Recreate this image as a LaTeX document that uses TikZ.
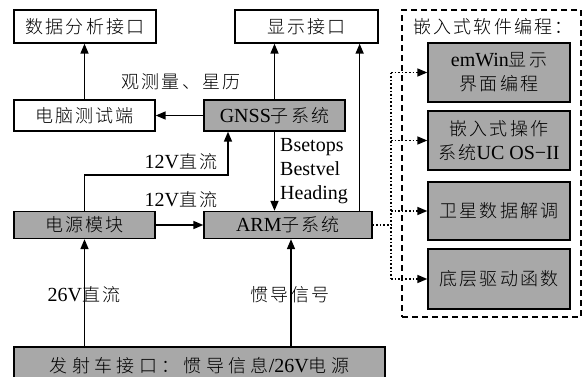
\documentclass[tikz,border=0pt]{standalone}
\usepackage{fontspec}
\setmainfont{Liberation Serif}
\newfontfamily\cjk[Scale=0.9,LetterSpace=12,UprightFont={* Light}]{Noto Sans CJK SC}
\newfontfamily\cjkwide[Scale=0.9,LetterSpace=24,UprightFont={* Light}]{Noto Sans CJK SC}
\usetikzlibrary{arrows.meta,calc}
\definecolor{boxgray}{RGB}{168,168,168}
\begin{document}
\begin{tikzpicture}[x=1pt,y=-1pt,
  every node/.style={font=\fontsize{20}{24}\selectfont},
  wbox/.style={draw, line width=1.3pt, fill=white, inner sep=0pt, align=center},
  gbox/.style={wbox, fill=boxgray},
  conn/.style={line width=1.6pt, -{Triangle[length=10pt,width=8pt]}},
  dotconn/.style={line width=1.6pt, dotted},
  lbl/.style={inner sep=0pt}]
\useasboundingbox (0,0) rectangle (582,376);
\fill[white] (0,0) rectangle (582,376);
\clip (0,0) rectangle (582,376);
% boxes
\node[wbox, minimum width=142pt, minimum height=33pt] (da) at (85,26.5) {\cjk 数据分析接口};
\node[wbox, minimum width=143pt, minimum height=33pt] (xs) at (306.5,26.5) {\cjk 显示接口};
\node[wbox, minimum width=141pt, minimum height=31pt] (pc) at (84.5,115.5) {\cjk 电脑测试端};
\node[gbox, minimum width=141pt, minimum height=31pt] (gnss) at (274.5,115.5) {GNSS{\cjk 子系统}};
\node[gbox, minimum width=141pt, minimum height=27pt] (pw) at (84.5,225) {\cjk 电源模块};
\node[gbox, minimum width=168pt, minimum height=27pt] (arm) at (288,225) {ARM{\cjk 子系统}};
\node[gbox, minimum width=371pt, minimum height=38pt] (bot) at (199.5,366) {{\cjkwide 发射车接口：惯导信息}/26V{\cjkwide 电源}};
% software group
\node[draw, line width=1.8pt, dash pattern=on 6pt off 4pt, minimum width=179pt, minimum height=307pt, inner sep=0pt] (sw) at (491.5,163.5) {};
\node[lbl] (swt) at (493,27) {\cjk 嵌入式软件编程：};
\node[gbox, minimum width=142pt, minimum height=59pt] (s1) at (499,72.5) {emWin{\cjk 显示}\\{\cjk 界面编程}};
\node[gbox, minimum width=142pt, minimum height=59pt] (s2) at (499,140.5) {{\cjk 嵌入式操作}\\{\cjk 系统}UC OS−II};
\node[gbox, minimum width=142pt, minimum height=58pt] (s3) at (499,211) {\cjk 卫星数据解调};
\node[gbox, minimum width=142pt, minimum height=60pt] (s4) at (499,279) {\cjk 底层驱动函数};
% connectors
\draw[conn] (pc.north) -- (pc.north |- da.south);
\draw[conn] (gnss.west) -- (pc.east);
\draw[conn] (gnss.north) -- (gnss.north |- xs.south);
\coordinate (armr) at ([xshift=-13pt]arm.north east);
\draw[conn] (armr) -- (armr |- xs.south);
\draw[conn] (gnss.south) -- (gnss.south |- arm.north);
\coordinate (gin) at (228,0);
\coordinate (pbend) at (0,175);
\draw[conn] (pw.north) |- (pbend -| gin) -- (gin |- gnss.south);
\draw[conn] (pw.east) -- (arm.west);
\draw[conn] (bot.north -| pw.south) -- (pw.south);
\coordinate (ins) at (291,0);
\draw[conn] (bot.north -| ins) -- (ins |- arm.south);
% dotted bus
\coordinate (bus) at (391,0);
\draw[dotconn] (arm.east) -- (arm.east -| bus);
\draw[dotconn] (bus |- s1.west) -- (bus |- s4.west);
\foreach \s in {s1,s2,s3,s4}
  \draw[dotconn, -{Triangle[length=10pt,width=8pt]}] (bus |- \s.west) -- (\s.west);
% labels
\node[lbl] (l1) at (181,82) {\cjk 观测量、星历};
\node[lbl] (l2) at (181,162) {12V{\cjk 直流}};
\node[lbl] (l3) at (181,200) {12V{\cjk 直流}};
\node[lbl, anchor=west, align=left] (l4) at (280,171) {Bsetops\\Bestvel\\Heading};
\node[lbl] (l5) at (84,295) {26V{\cjk 直流}};
\node[lbl] (l6) at (290,295) {\cjk 惯导信号};
\end{tikzpicture}
\end{document}
